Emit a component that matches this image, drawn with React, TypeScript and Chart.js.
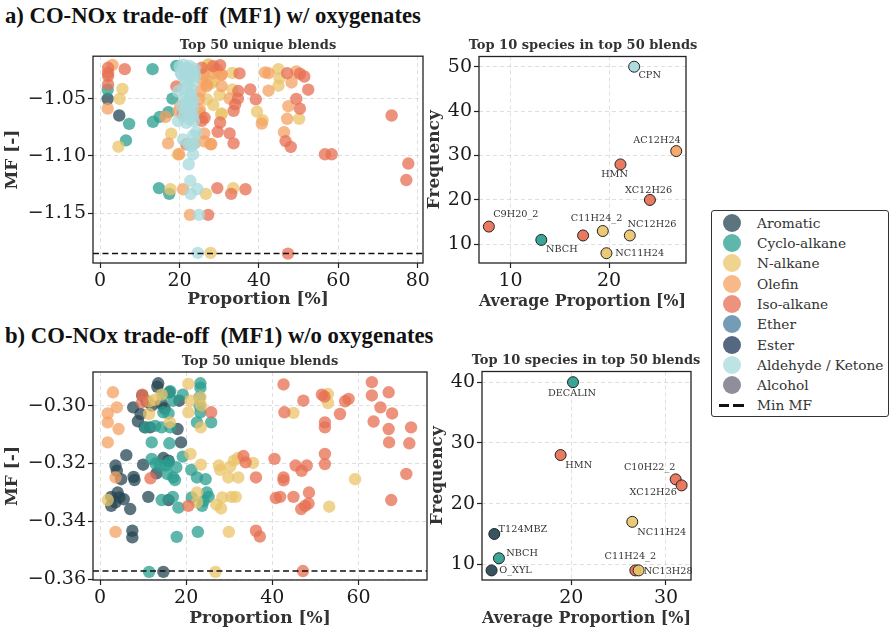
import React, { useEffect, useRef } from 'react';
import { Chart, registerables } from 'chart.js';

Chart.register(...registerables);

type Pt = [number, number];

// ---------------- categories ----------------
const categories = ['Aromatic', 'Cyclo-alkane', 'N-alkane', 'Olefin', 'Iso-alkane', 'Ether', 'Ester', 'Aldehyde / Ketone', 'Alcohol'];
const categoryColors = ['#264653', '#2a9d8f', '#e9c46a', '#f4a261', '#e76f51', '#457b9d', '#1d3557', '#a8dadc', '#6b6878'];

// ---------------- panel a) left: blend components (proportion %, MF) ----------------
const aromaticTop: Pt[] = [[1.9, -1.0503], [4.8, -1.0647]];
const cycloTop: Pt[] = [[1.9, -1.0422], [13.2, -1.0243], [19.2, -1.0215], [7.3, -1.072], [6.5, -1.0864], [18.2, -1.05], [17.2, -1.0618], [15.0, -1.0659], [13.3, -1.0702], [14.8, -1.128], [17.4, -1.133]];
const nalkaneTop: Pt[] = [[5.6, -1.0416], [4.9, -1.0503], [4.6, -1.0919], [17.7, -1.129], [26.6, -1.133], [33.5, -1.128], [27.8, -1.1845], [27.2, -1.0206], [26.3, -1.0278], [33.3, -1.0275], [28.5, -1.0347], [28.0, -1.0364], [33.3, -1.042], [30.1, -1.0468], [26.9, -1.0506], [28.5, -1.0555], [30.6, -1.063], [25.6, -1.0665], [39.5, -1.0613], [40.9, -1.0688], [44.9, -1.0243], [45.2, -1.0321], [44.9, -1.0387], [50.1, -1.0676], [17.9, -1.0806], [19.6, -1.0985], [27.3, -1.0202], [30.5, -1.0638]];
const olefinTop: Pt[] = [[3.1, -1.0206], [1.9, -1.0587], [16.5, -1.066], [20.9, -1.129], [22.6, -1.1513], [29.4, -1.0246], [26.0, -1.0289], [30.6, -1.0289], [26.9, -1.0376], [30.6, -1.039], [32.6, -1.05], [28.0, -1.0896], [26.2, -1.0873], [26.2, -1.0803], [25.0, -1.0621], [25.2, -1.0434], [40.7, -1.0717], [41.5, -1.0272], [42.4, -1.0278], [42.4, -1.0431], [48.2, -1.0359], [49.4, -1.0263], [47.4, -1.0566], [47.1, -1.0676], [46.3, -1.0792], [17.1, -1.089], [23.8, -1.089], [27.8, -1.0898], [19.9, -1.0985], [25.7, -1.0335], [26.8, -1.0393], [25.1, -1.0595], [20.2, -1.0566], [19.7, -1.0612], [24.9, -1.0503], [28.4, -1.0278], [30.5, -1.0292]];
const isoTop: Pt[] = [[2.0, -1.0231], [2.0, -1.0275], [2.0, -1.0303], [2.0, -1.0376], [6.2, -1.0243], [19.2, -1.0393], [29.5, -1.128], [33.0, -1.133], [36.6, -1.129], [27.2, -1.1513], [47.3, -1.1851], [25.6, -1.0231], [28.5, -1.0217], [30.2, -1.0208], [35.1, -1.028], [34.8, -1.0434], [34.7, -1.05], [34.0, -1.055], [33.6, -1.0607], [30.2, -1.0708], [29.6, -1.0789], [32.6, -1.0803], [33.6, -1.089], [25.6, -1.0694], [37.8, -1.042], [39.2, -1.0506], [47.1, -1.0278], [50.3, -1.0283], [51.4, -1.0307], [52.4, -1.0422], [49.4, -1.0503], [50.3, -1.0587], [46.7, -1.087], [48.0, -1.0921], [56.6, -1.0985], [58.3, -1.0985], [73.4, -1.0647], [77.6, -1.1066], [77.1, -1.121], [26.3, -1.0667], [21.7, -1.0898], [20.8, -1.064]];
const aldehydeTop: Pt[] = [[20.0, -1.022], [21.0, -1.0249], [22.1, -1.0234], [23.2, -1.0263], [20.5, -1.0292], [21.7, -1.0292], [23.0, -1.0312], [23.4, -1.035], [22.1, -1.0379], [20.9, -1.0408], [23.0, -1.0422], [19.6, -1.0436], [22.6, -1.0465], [21.3, -1.0494], [23.4, -1.0509], [22.1, -1.0538], [20.5, -1.0566], [23.4, -1.0581], [21.3, -1.061], [22.6, -1.0624], [23.4, -1.0653], [19.6, -1.0696], [21.7, -1.0711], [23.6, -1.0696], [24.2, -1.0792], [23.4, -1.082], [20.9, -1.0855], [23.8, -1.089], [23.0, -1.0913], [23.4, -1.0985], [22.3, -1.1072], [22.7, -1.1216], [22.8, -1.1331], [24.5, -1.1288], [24.9, -1.1513], [24.6, -1.1845], [21.0, -1.0205], [22.5, -1.0215], [23.8, -1.024], [20.3, -1.027], [22.4, -1.0285], [24.0, -1.03], [21.4, -1.033], [22.8, -1.046], [21.8, -1.052], [23.0, -1.055], [22.0, -1.059], [21.0, -1.065], [22.5, -1.068], [22.3, -1.09]];
const minMFTop = -1.185;

// ---------------- panel a) right: top 10 species ----------------
const speciesTop = ['CPN', 'AC12H24', 'HMN', 'XC12H26', 'C9H20_2', 'NBCH', 'C11H24_2', '', 'NC12H26', 'NC11H24'];
const avgPropTop = [22.54, 26.81, 21.15, 24.14, 7.8, 13.12, 17.36, 19.36, 22.1, 19.73];
const freqTop = [50, 31, 28, 20, 14, 11, 12, 13, 12, 8];
const classTop = [7, 3, 4, 4, 4, 1, 4, 2, 2, 2];

// ---------------- panel b) left ----------------
const aromaticBot: Pt[] = [[13.5, -0.2923], [13.3, -0.2935], [9.8, -0.2965], [7.7, -0.3006], [9.4, -0.3029], [8.8, -0.3054], [10.4, -0.3075], [11.6, -0.3075], [14.3, -0.2994], [16.1, -0.2954], [18.4, -0.2983], [18.0, -0.3081], [18.8, -0.3127], [6.1, -0.3171], [3.6, -0.3207], [3.9, -0.3225], [4.9, -0.3254], [7.8, -0.3246], [8.0, -0.3257], [10.0, -0.3204], [13.1, -0.3234], [14.7, -0.3181], [15.9, -0.319], [4.1, -0.33], [2.6, -0.3315], [2.6, -0.3346], [4.5, -0.3317], [5.5, -0.3323], [3.6, -0.3334], [7.0, -0.3357], [11.2, -0.3315], [15.9, -0.3326], [7.5, -0.3432], [7.5, -0.3455], [14.7, -0.3574], [12.0, -0.3], [15.0, -0.301], [10.8, -0.2985]];
const cycloBot: Pt[] = [[23.3, -0.2923], [23.3, -0.2938], [19.2, -0.2962], [17.0, -0.2983], [14.7, -0.3023], [15.9, -0.3027], [23.1, -0.2971], [23.1, -0.3], [23.3, -0.3023], [22.5, -0.3058], [25.8, -0.3058], [10.6, -0.3075], [14.3, -0.3075], [16.3, -0.3075], [12.0, -0.3127], [16.1, -0.313], [12.0, -0.3184], [13.9, -0.3207], [12.9, -0.32], [15.2, -0.3207], [16.0, -0.3195], [17.7, -0.3213], [19.2, -0.3176], [21.2, -0.3222], [22.5, -0.3248], [24.5, -0.3254], [15.6, -0.3236], [17.0, -0.3248], [17.4, -0.3257], [14.3, -0.3326], [16.9, -0.3315], [18.2, -0.3352], [21.3, -0.3317], [24.8, -0.33], [25.2, -0.3315], [23.7, -0.3346], [22.7, -0.3436], [17.8, -0.3453], [11.4, -0.3574], [16.3, -0.295], [14.5, -0.2965], [24.0, -0.333], [12.8, -0.307]];
const nalkaneBot: Pt[] = [[20.5, -0.2925], [14.3, -0.2962], [12.7, -0.298], [11.4, -0.2985], [21.0, -0.2983], [23.3, -0.2971], [20.5, -0.3023], [11.4, -0.3029], [16.2, -0.3058], [23.4, -0.3075], [21.0, -0.3167], [23.4, -0.3204], [27.6, -0.3207], [27.9, -0.3222], [30.2, -0.3211], [31.1, -0.319], [32.0, -0.3181], [29.8, -0.3248], [32.1, -0.3248], [22.5, -0.33], [22.5, -0.3334], [28.4, -0.3317], [30.5, -0.3315], [31.5, -0.3315], [27.0, -0.3342], [28.1, -0.3355], [29.9, -0.3436], [26.8, -0.3574], [1.8, -0.3326], [52.9, -0.296], [52.9, -0.2991], [44.9, -0.3025], [59.2, -0.3254], [53.2, -0.3349], [23.5, -0.3], [35.5, -0.3198]];
const olefinBot: Pt[] = [[3.0, -0.2954], [3.9, -0.3006], [1.8, -0.3027], [1.8, -0.3058], [4.3, -0.3081], [1.8, -0.3127], [3.6, -0.3248], [3.6, -0.3436]];
const isoBot: Pt[] = [[9.8, -0.2962], [9.8, -0.2988], [25.8, -0.3023], [11.7, -0.3251], [20.5, -0.3346], [33.3, -0.3174], [33.8, -0.3196], [36.2, -0.3248], [36.2, -0.3432], [37.1, -0.3452], [42.6, -0.2927], [47.2, -0.2983], [42.8, -0.3023], [40.5, -0.3184], [42.6, -0.3248], [42.6, -0.3258], [40.8, -0.3319], [41.8, -0.3315], [44.9, -0.3315], [45.4, -0.3207], [46.8, -0.3225], [48.0, -0.3207], [48.5, -0.33], [48.4, -0.3338], [47.6, -0.3346], [46.7, -0.3357], [51.5, -0.2962], [52.1, -0.2969], [52.2, -0.3058], [52.2, -0.3075], [52.2, -0.3167], [52.2, -0.3202], [55.7, -0.3029], [56.9, -0.2985], [57.7, -0.2977], [63.1, -0.2919], [63.1, -0.2965], [67.0, -0.2954], [65.1, -0.3006], [67.8, -0.3027], [63.5, -0.3055], [67.0, -0.3081], [67.1, -0.3127], [72.2, -0.3075], [71.8, -0.313], [71.1, -0.3236], [67.6, -0.3326], [47.1, -0.3571]];
const minMFBot = -0.3571;

// ---------------- panel b) right ----------------
const speciesBot = ['DECALIN', 'HMN', 'C10H22_2', 'XC12H26', 'NC11H24', 'T124MBZ', 'NBCH', 'O_XYL', 'C11H24_2', 'NC13H28'];
const avgPropBot = [20.18, 18.87, 31.02, 31.65, 26.44, 11.87, 12.36, 11.58, 26.76, 27.11];
const freqBot = [40, 28, 24, 23, 17, 15, 11, 9, 9, 9];
const classBot = [1, 4, 4, 4, 2, 0, 1, 0, 4, 2];

// ---------------- ticks ----------------
const xTicksTopLeft = [0, 20, 40, 60, 80];
const yTicksTopLeft = [-1.15, -1.10, -1.05];
const xTicksTopRight = [10, 20];
const yTicksTopRight = [10, 20, 30, 40, 50];
const xTicksBotLeft = [0, 20, 40, 60];
const yTicksBotLeft = [-0.36, -0.34, -0.32, -0.30];
const xTicksBotRight = [20, 30];
const yTicksBotRight = [10, 20, 30, 40];

// ---------------- label layout (pixel offsets from point) ----------------
const labelOffsetTop: Pt[] = [[4.3, 9], [-43, -11], [-19.3, 10], [-25, -9.3], [4.3, -11.7], [4.7, 10], [-12.3, -17], [0, 0], [-2.3, -11.3], [8.7, 0]];
const labelOffsetBot: Pt[] = [[-25, 11], [4.7, 10], [-51.7, -12], [-52, 6.7], [5, 10.7], [4.3, -5], [7.3, -4.7], [7.7, 0], [-30.7, -13.7], [5, 1]];

// ---------------- styling ----------------
const SERIF = "'DejaVu Serif', serif";
const TICK_SIZE = 19;
const AXTITLE_SIZE = 17;

function rgba(hex: string, a: number) {
  const n = parseInt(hex.slice(1), 16);
  return `rgba(${(n >> 16) & 255},${(n >> 8) & 255},${n & 255},${a})`;
}
const fmtTick = (v: number, d: number) => v.toFixed(d).replace('-', '\u2212');

interface Box { L: number; T: number; W: number; H: number }
interface Area { left: number; right: number; top: number; bottom: number }
interface PanelSpec {
  box: Box; area: Area;
  xMin: number; xMax: number; yMin: number; yMax: number;
  xTicks: number[]; yTicks: number[]; xDec: number; yDec: number;
  xTitle: string; yTitle: string; xTitleY: number; yTitleX: number;
  datasets: any[]; plugins: any[];
}

function frameLinePlugin(minMF?: number) {
  return {
    id: 'frameLine',
    afterDatasetsDraw(chart: any) {
      const { ctx, chartArea: a } = chart;
      ctx.save();
      if (minMF !== undefined) {
        const y = chart.scales.y.getPixelForValue(minMF);
        ctx.strokeStyle = '#111';
        ctx.lineWidth = 1.6;
        ctx.setLineDash([6, 3.5]);
        ctx.beginPath();
        ctx.moveTo(a.left, y);
        ctx.lineTo(a.right, y);
        ctx.stroke();
      }
      ctx.setLineDash([]);
      ctx.strokeStyle = '#222';
      ctx.lineWidth = 1.3;
      ctx.strokeRect(a.left, a.top, a.right - a.left, a.bottom - a.top);
      ctx.restore();
    },
  };
}

function labelPlugin(names: string[], offsets: Pt[]) {
  return {
    id: 'pointLabels',
    afterDatasetsDraw(chart: any) {
      const { ctx } = chart;
      const meta = chart.getDatasetMeta(0);
      ctx.save();
      ctx.font = `9.7px ${SERIF}`;
      ctx.fillStyle = '#333';
      ctx.textAlign = 'left';
      ctx.textBaseline = 'middle';
      meta.data.forEach((el: any, i: number) => {
        if (!names[i]) return;
        ctx.fillText(names[i], el.x + offsets[i][0], el.y + offsets[i][1]);
      });
      ctx.restore();
    },
  };
}

function makeAxis(min: number, max: number, ticks: number[], dec: number, title: string, isY: boolean, size: number, titlePad: number) {
  return {
    type: 'linear',
    min, max,
    afterBuildTicks: (s: any) => { s.ticks = ticks.map((v) => ({ value: v })); },
    afterFit: (s: any) => {
      if (isY) s.width = size; else s.height = size;
      s.paddingTop = 0; s.paddingBottom = 0; s.paddingLeft = 0; s.paddingRight = 0;
    },
    grid: {
      color: 'rgba(190,190,190,0.55)', lineWidth: 0.9,
      drawTicks: true, tickLength: 5, tickColor: '#222', tickWidth: 1.2, tickBorderDash: [],
    },
    border: { display: false, dash: [4, 3] },
    ticks: {
      color: '#1a1a1a', font: { family: SERIF, size: TICK_SIZE }, padding: isY ? 2 : 2,
      autoSkip: false, maxRotation: 0, includeBounds: false,
      callback: (v: any) => fmtTick(Number(v), dec),
    },
    title: {
      display: true, text: title, color: '#333',
      font: { family: SERIF, size: AXTITLE_SIZE, weight: 'bold' },
      padding: { top: titlePad, bottom: titlePad },
    },
  };
}

function buildChart(canvas: HTMLCanvasElement, p: PanelSpec) {
  const wy = p.area.left - p.box.L;
  const hx = p.box.T + p.box.H - p.area.bottom;
  const padTop = p.area.top - p.box.T;
  const padRight = p.box.L + p.box.W - p.area.right;
  const lh = AXTITLE_SIZE * 1.2;
  const yPad = p.yTitleX - p.box.L - lh / 2;
  const xPad = p.box.T + p.box.H - p.xTitleY - lh / 2;
  return new Chart(canvas, {
    type: 'scatter',
    data: { datasets: p.datasets },
    options: {
      animation: false,
      responsive: false,
      maintainAspectRatio: false,
      layout: { padding: { top: padTop, right: padRight, left: 0, bottom: 0 } },
      plugins: { legend: { display: false }, tooltip: { enabled: false }, title: { display: false } },
      scales: {
        x: makeAxis(p.xMin, p.xMax, p.xTicks, p.xDec, p.xTitle, false, hx, xPad) as any,
        y: makeAxis(p.yMin, p.yMax, p.yTicks, p.yDec, p.yTitle, true, wy, yPad) as any,
      },
    },
    plugins: p.plugins,
  });
}

function blendDatasets(groups: [number, Pt[]][]) {
  return groups.map(([cat, pts], i) => ({
    label: categories[cat],
    data: pts.map(([x, y]) => ({ x, y })),
    pointRadius: 6.2,
    pointHoverRadius: 6.2,
    pointBackgroundColor: rgba(categoryColors[cat], 0.75),
    pointBorderWidth: 0,
    pointBorderColor: 'rgba(0,0,0,0)',
    order: 20 - i,
  }));
}

function speciesDataset(xs: number[], ys: number[], cls: number[]) {
  return [{
    label: 'species',
    data: xs.map((x, i) => ({ x, y: ys[i] })),
    pointRadius: 5.5,
    pointHoverRadius: 5.5,
    pointBackgroundColor: cls.map((c) => rgba(categoryColors[c], 0.92)),
    pointBorderColor: '#222',
    pointBorderWidth: 1,
  }];
}

const panels: PanelSpec[] = [
  {
    box: { L: 0, T: 50, W: 440, H: 270 }, area: { left: 93, right: 423, top: 55, bottom: 263 },
    xMin: -1.8, xMax: 81.3, yMin: -1.1933, yMax: -1.013,
    xTicks: xTicksTopLeft, yTicks: yTicksTopLeft, xDec: 0, yDec: 2,
    xTitle: 'Proportion [%]', yTitle: 'MF [-]', xTitleY: 300, yTitleX: 13,
    datasets: blendDatasets([[0, aromaticTop], [1, cycloTop], [2, nalkaneTop], [3, olefinTop], [4, isoTop], [7, aldehydeTop]]),
    plugins: [frameLinePlugin(minMFTop)],
  },
  {
    box: { L: 420, T: 50, W: 280, H: 270 }, area: { left: 479, right: 686, top: 54, bottom: 263 },
    xMin: 6.8, xMax: 27.8, yMin: 5.8, yMax: 52.3,
    xTicks: xTicksTopRight, yTicks: yTicksTopRight, xDec: 0, yDec: 0,
    xTitle: 'Average Proportion [%]', yTitle: 'Frequency', xTitleY: 301.5, yTitleX: 435,
    datasets: speciesDataset(avgPropTop, freqTop, classTop),
    plugins: [frameLinePlugin(), labelPlugin(speciesTop, labelOffsetTop)],
  },
  {
    box: { L: 0, T: 365, W: 440, H: 270 }, area: { left: 93, right: 427, top: 372, bottom: 580 },
    xMin: -1.63, xMax: 75.9, yMin: -0.3602, yMax: -0.2884,
    xTicks: xTicksBotLeft, yTicks: yTicksBotLeft, xDec: 0, yDec: 2,
    xTitle: 'Proportion [%]', yTitle: 'MF [-]', xTitleY: 619, yTitleX: 13,
    datasets: blendDatasets([[0, aromaticBot], [1, cycloBot], [2, nalkaneBot], [3, olefinBot], [4, isoBot]]),
    plugins: [frameLinePlugin(minMFBot)],
  },
  {
    box: { L: 420, T: 365, W: 285, H: 270 }, area: { left: 482, right: 691, top: 371, bottom: 580 },
    xMin: 10.57, xMax: 32.64, yMin: 7.42, yMax: 41.76,
    xTicks: xTicksBotRight, yTicks: yTicksBotRight, xDec: 0, yDec: 0,
    xTitle: 'Average Proportion [%]', yTitle: 'Frequency', xTitleY: 619, yTitleX: 438,
    datasets: speciesDataset(avgPropBot, freqBot, classBot),
    plugins: [frameLinePlugin(), labelPlugin(speciesBot, labelOffsetBot)],
  },
];

function PanelCanvas({ spec }: { spec: PanelSpec }) {
  const ref = useRef<HTMLCanvasElement>(null);
  useEffect(() => {
    const c = buildChart(ref.current as HTMLCanvasElement, spec);
    return () => c.destroy();
  }, [spec]);
  const { L, T, W, H } = spec.box;
  return <canvas ref={ref} width={W} height={H} style={{ position: 'absolute', left: L, top: T, width: W, height: H }} />;
}

const mainTitles = [
  { text: 'a) CO-NOx trade-off  (MF1) w/ oxygenates', x: 5, y: 16 },
  { text: 'b) CO-NOx trade-off  (MF1) w/o oxygenates', x: 5, y: 336 },
];
const subTitles = [
  { text: 'Top 50 unique blends', x: 258, y: 44 },
  { text: 'Top 10 species in top 50 blends', x: 583, y: 44 },
  { text: 'Top 50 unique blends', x: 260, y: 360 },
  { text: 'Top 10 species in top 50 blends', x: 586, y: 359 },
];

export default function App() {
  useEffect(() => {
    document.body.style.margin = '0';
    document.body.style.background = '#fff';
  }, []);
  return (
    <div style={{ position: 'relative', width: 896, height: 635, overflow: 'hidden', background: '#fff' }}>
      {panels.map((p, i) => <PanelCanvas key={i} spec={p} />)}
      {mainTitles.map((t, i) => (
        <div key={'m' + i} style={{ position: 'absolute', left: t.x, top: t.y, transform: 'translateY(-50%)', whiteSpace: 'pre', fontFamily: "'Liberation Serif', serif", fontWeight: 'bold', fontSize: 22.7, lineHeight: '26px', color: '#111' }}>{t.text}</div>
      ))}
      {subTitles.map((t, i) => (
        <div key={'s' + i} style={{ position: 'absolute', left: t.x, top: t.y, transform: 'translate(-50%, -50%)', whiteSpace: 'pre', fontFamily: SERIF, fontWeight: 'bold', fontSize: 13, lineHeight: '15px', color: '#333' }}>{t.text}</div>
      ))}
      <div style={{ position: 'absolute', left: 711, top: 210, width: 176, height: 205, border: '1.3px solid #333', borderRadius: 3, background: '#fff' }}>
        {categories.map((c, i) => (
          <div key={c} style={{ position: 'absolute', left: 0, top: 11.7 + i * 20.3, height: 0 }}>
            <div style={{ position: 'absolute', left: 11, top: -9, width: 18, height: 18, borderRadius: '50%', background: rgba(categoryColors[i], 0.75) }} />
            <div style={{ position: 'absolute', left: 45, top: -9, whiteSpace: 'pre', fontFamily: SERIF, fontSize: 13.7, lineHeight: '18px', color: '#333' }}>{c}</div>
          </div>
        ))}
        <div style={{ position: 'absolute', left: 0, top: 11.7 + 9 * 20.3, height: 0 }}>
          <div style={{ position: 'absolute', left: 7, top: -1.3, width: 10, height: 2.6, background: '#111' }} />
          <div style={{ position: 'absolute', left: 21, top: -1.3, width: 11, height: 2.6, background: '#111' }} />
          <div style={{ position: 'absolute', left: 45, top: -9, whiteSpace: 'pre', fontFamily: SERIF, fontSize: 13.7, lineHeight: '18px', color: '#333' }}>Min MF</div>
        </div>
      </div>
    </div>
  );
}
